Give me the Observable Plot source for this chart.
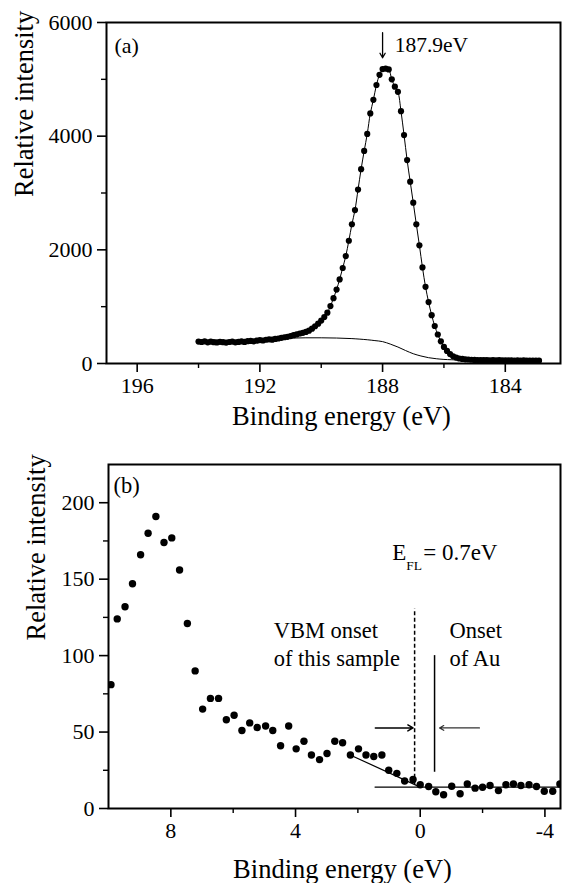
<!DOCTYPE html>
<html><head><meta charset="utf-8">
<script src="https://cdn.jsdelivr.net/npm/d3@7"></script>
<script src="https://cdn.jsdelivr.net/npm/@observablehq/plot@0.6"></script>
<style>
body{margin:0;background:#fff;font-family:"Liberation Serif", serif}
svg{display:block}
svg text { font-family: "Liberation Serif", serif !important; }
</style>
</head><body><div id="chart"></div>
<script>
// ---------- Panel (a): core-level XPS peak ----------
const energyA = [194.0,193.9,193.8,193.7,193.6,193.5,193.4,193.3,193.2,193.1,193.0,192.9,192.8,192.7,192.6,192.5,192.4,192.3,192.2,192.1,192.0,191.9,191.8,191.7,191.6,191.5,191.4,191.3,191.2,191.1,191.0,190.9,190.8,190.7,190.6,190.5,190.4,190.3,190.2,190.1,190.0,189.9,189.8,189.7,189.6,189.5,189.4,189.3,189.2,189.1,189.0,188.9,188.8,188.7,188.6,188.5,188.4,188.3,188.2,188.1,188.0,187.9,187.8,187.7,187.6,187.5,187.4,187.3,187.2,187.1,187.0,186.9,186.8,186.7,186.6,186.5,186.4,186.3,186.2,186.1,186.0,185.9,185.8,185.7,185.6,185.5,185.4,185.3,185.2,185.1,185.0,184.9,184.8,184.7,184.6,184.5,184.4,184.3,184.2,184.1,184.0,183.9,183.8,183.7,183.6,183.5,183.4,183.3,183.2,183.1,183.0,182.9];
const intensityA = [385,378,390,372,384,376,370,382,375,368,378,385,372,380,388,380,392,398,390,402,412,405,418,425,420,432,440,452,462,470,482,498,512,528,540,556,578,612,655,700,755,818,895,1010,1150,1300,1480,1680,1890,2160,2450,2700,3060,3420,3740,4040,4400,4640,4900,5080,5180,5190,5175,5000,4870,4780,4440,4020,3580,3200,2830,2450,2080,1690,1350,1080,850,660,510,390,292,222,165,128,104,88,80,74,70,66,63,61,62,58,60,57,59,56,58,55,57,54,56,53,55,52,54,51,53,50,52,50];
const bgEnergyA = [194.0,193.0,192.0,191.5,191.0,190.5,190.0,189.5,189.0,188.5,188.25,188.0,187.75,187.5,187.25,187.0,186.75,186.5,186.25,186.0,185.5,185.0,184.0,183.0];
const bgIntensityA = [385,388,410,432,447,452,452,448,438,418,403,385,342,290,228,172,132,102,84,72,62,57,53,50];
const xTicksA = [196, 192, 188, 184];
const xMinorA = [194, 190, 186];
const yTicksA = [0, 2000, 4000, 6000];
const yMinorA = [1000, 3000, 5000];
const peakLabel = "187.9eV";
const peakLabelE = 187.9;
const peakLabelI = 5600;
const peakArrowE = [188.0, 188.0];
const peakArrowI = [5820, 5380];

// ---------- Panel (b): valence band ----------
const energyB = [9.92,9.72,9.47,9.23,8.97,8.73,8.48,8.22,7.97,7.72,7.47,7.22,6.98,6.73,6.47,6.22,5.97,5.72,5.47,5.23,4.96,4.73,4.48,4.22,3.98,3.73,3.49,3.23,2.99,2.74,2.49,2.24,1.98,1.74,1.49,1.23,1.01,0.75,0.50,0.23,0.00,-0.27,-0.50,-0.75,-1.01,-1.28,-1.51,-1.76,-2.00,-2.24,-2.51,-2.75,-2.99,-3.23,-3.49,-3.73,-3.98,-4.25,-4.48];
const intensityB = [81,124,132,147,166,180,191,174,177,156,121,90,65,72,72,58,61,51,56,53,54,51,41,54,39,44,35,32,36,44,43,35,39,35,34,35,25,23,18,19,15.5,14.4,11,9,14.6,9.6,16,13.3,13.9,15,11.7,15.5,16,15,15.5,14.4,11.3,11.3,16];
const xTicksB = [8, 4, 0, -4];
const xMinorB = [6, 2, -2];
const yTicksB = [0, 50, 100, 150, 200];
const yMinorB = [25, 75, 125, 175];
const slopeE = [2.3, 0.0];
const slopeI = [35.5, 14];
const baseE = [1.45, -4.5];
const baseI = [14, 14];
const vbmOnsetE = 0.18;
const vbmOnsetI = [15.6, 130.5];
const auOnsetE = -0.46;
const auOnsetI = [23.7, 100];
const arrowI = 52.7;
const leftArrowE = [1.44, 0.23];
const rightArrowE = [-1.9, -0.62];
const eflE = 0.9, eflI = 162.5;
const vbmLines = ["VBM onset", "of this sample"];
const auLines = ["Onset", "of Au"];
const noteLineI = [111.6, 93.3];
const vbmTextE = 4.7;
const auTextE = -0.94;

const FF = "Liberation Serif";
const W = 565;
const dataA = energyA.map((e, i) => ({e, v: intensityA[i]}));
const bgA = bgEnergyA.map((e, i) => ({e, v: bgIntensityA[i]}));
const dataB = energyB.map((e, i) => ({e, v: intensityB[i]}));
const fmt = d => String(d);
const T = d => d;

const plotA = Plot.plot({
  width: W, height: 430,
  marginTop: 22, marginLeft: 106, marginRight: 5, marginBottom: 67,
  style: "font-family: 'Liberation Serif', serif; font-size: 22px; background: white; color: black; overflow: visible;",
  x: {domain: [197, 182.2]},
  y: {domain: [0, 6000]},
  marks: [
    Plot.line(bgA, {x: "e", y: "v", stroke: "black", strokeWidth: 1, curve: "catmull-rom"}),
    Plot.line(dataA, {x: "e", y: "v", stroke: "black", strokeWidth: 1, curve: "catmull-rom"}),
    Plot.dot(dataA, {x: "e", y: "v", r: 3.1, fill: "black"}),
    Plot.frame({stroke: "black", strokeWidth: 2}),
    Plot.axisX({ticks: xTicksA, tickSize: 9, tickPadding: 5, tickFormat: fmt, label: null, strokeWidth: 1.6, fontSize: 22, fontFamily: FF}),
    Plot.axisX({ticks: xMinorA, tickSize: 5, tickFormat: () => "", label: null, strokeWidth: 1.4}),
    Plot.axisY({ticks: yTicksA, tickSize: 9, tickPadding: 5, tickFormat: fmt, label: null, strokeWidth: 1.6, fontSize: 22, fontFamily: FF}),
    Plot.axisY({ticks: yMinorA, tickSize: 5, tickFormat: () => "", label: null, strokeWidth: 1.4}),
    Plot.arrow([0], {x1: () => peakArrowE[0], y1: () => peakArrowI[0], x2: () => peakArrowE[1], y2: () => peakArrowI[1], stroke: "black", strokeWidth: 1.3, headLength: 6}),
    Plot.text([peakLabel], {x: () => peakLabelE, y: () => peakLabelI, dx: 9, text: T, textAnchor: "start", lineAnchor: "middle", fontSize: 21.5, fontFamily: FF}),
    Plot.text(["(a)"], {frameAnchor: "top-left", dx: 8, dy: 23, text: T, textAnchor: "start", lineAnchor: "middle", fontSize: 22, fontFamily: FF}),
    Plot.text(["Relative intensity"], {frameAnchor: "left", dx: -74, dy: 4, rotate: -90, text: T, lineAnchor: "bottom", fontSize: 26.5, fontFamily: FF}),
    Plot.text(["Binding energy (eV)"], {frameAnchor: "bottom", dx: 8, dy: 61, text: T, lineAnchor: "bottom", fontSize: 26.5, fontFamily: FF})
  ]
});

const plotB = Plot.plot({
  width: W, height: 453,
  marginTop: 34, marginLeft: 108, marginRight: 5, marginBottom: 75,
  style: "font-family: 'Liberation Serif', serif; font-size: 22px; background: white; color: black; overflow: hidden;",
  x: {domain: [10, -4.5]},
  y: {domain: [0, 225]},
  marks: [
    Plot.line(slopeE.map((e, i) => ({e, v: slopeI[i]})), {x: "e", y: "v", stroke: "black", strokeWidth: 1.2}),
    Plot.line(baseE.map((e, i) => ({e, v: baseI[i]})), {x: "e", y: "v", stroke: "black", strokeWidth: 1.2}),
    Plot.ruleX([vbmOnsetE], {y1: vbmOnsetI[0], y2: vbmOnsetI[1], stroke: "black", strokeWidth: 1.5, strokeDasharray: "4,2.5"}),
    Plot.ruleX([auOnsetE], {y1: auOnsetI[0], y2: auOnsetI[1], stroke: "black", strokeWidth: 1.5}),
    Plot.arrow([0], {x1: () => leftArrowE[0], x2: () => leftArrowE[1], y1: () => arrowI, y2: () => arrowI, stroke: "black", strokeWidth: 1.5, headLength: 6}),
    Plot.arrow([0], {x1: () => rightArrowE[0], x2: () => rightArrowE[1], y1: () => arrowI, y2: () => arrowI, stroke: "#333", strokeWidth: 1.2, headLength: 6}),
    Plot.dot(dataB, {x: "e", y: "v", r: 3.7, fill: "black", clip: true}),
    Plot.frame({stroke: "black", strokeWidth: 2}),
    Plot.axisX({ticks: xTicksB, tickSize: 9, tickPadding: 5, tickFormat: fmt, label: null, strokeWidth: 1.6, fontSize: 22, fontFamily: FF}),
    Plot.axisX({ticks: xMinorB, tickSize: 5, tickFormat: () => "", label: null, strokeWidth: 1.4}),
    Plot.axisY({ticks: yTicksB, tickSize: 9, tickPadding: 5, tickFormat: fmt, label: null, strokeWidth: 1.6, fontSize: 22, fontFamily: FF}),
    Plot.axisY({ticks: yMinorB, tickSize: 5, tickFormat: () => "", label: null, strokeWidth: 1.4}),
    Plot.text(["(b)"], {frameAnchor: "top-left", dx: 5, dy: 21, text: T, textAnchor: "start", lineAnchor: "middle", fontSize: 22.5, fontFamily: FF}),
    Plot.text(["E"], {x: () => eflE, y: () => eflI, text: T, textAnchor: "start", lineAnchor: "bottom", fontSize: 23, fontFamily: FF}),
    Plot.text(["FL"], {x: () => eflE, y: () => eflI, dx: 14, dy: 10, text: T, textAnchor: "start", lineAnchor: "bottom", fontSize: 13.5, fontFamily: FF}),
    Plot.text(["= 0.7eV"], {x: () => eflE, y: () => eflI, dx: 31, text: T, textAnchor: "start", lineAnchor: "bottom", fontSize: 23, fontFamily: FF}),
    Plot.text(vbmLines, {x: () => vbmTextE, y: (d, i) => noteLineI[i], text: T, textAnchor: "start", lineAnchor: "bottom", fontSize: 22.5, fontFamily: FF}),
    Plot.text(auLines, {x: () => auTextE, y: (d, i) => noteLineI[i], text: T, textAnchor: "start", lineAnchor: "bottom", fontSize: 22.5, fontFamily: FF}),
    Plot.text(["Relative intensity"], {frameAnchor: "left", dx: -64, dy: 4, rotate: -90, text: T, lineAnchor: "bottom", fontSize: 26.5, fontFamily: FF}),
    Plot.text(["Binding energy (eV)"], {frameAnchor: "bottom", dx: 8, dy: 69, text: T, lineAnchor: "bottom", fontSize: 26.5, fontFamily: FF})
  ]
});

const root = document.getElementById("chart");
root.appendChild(plotA);
root.appendChild(plotB);
</script></body></html>
